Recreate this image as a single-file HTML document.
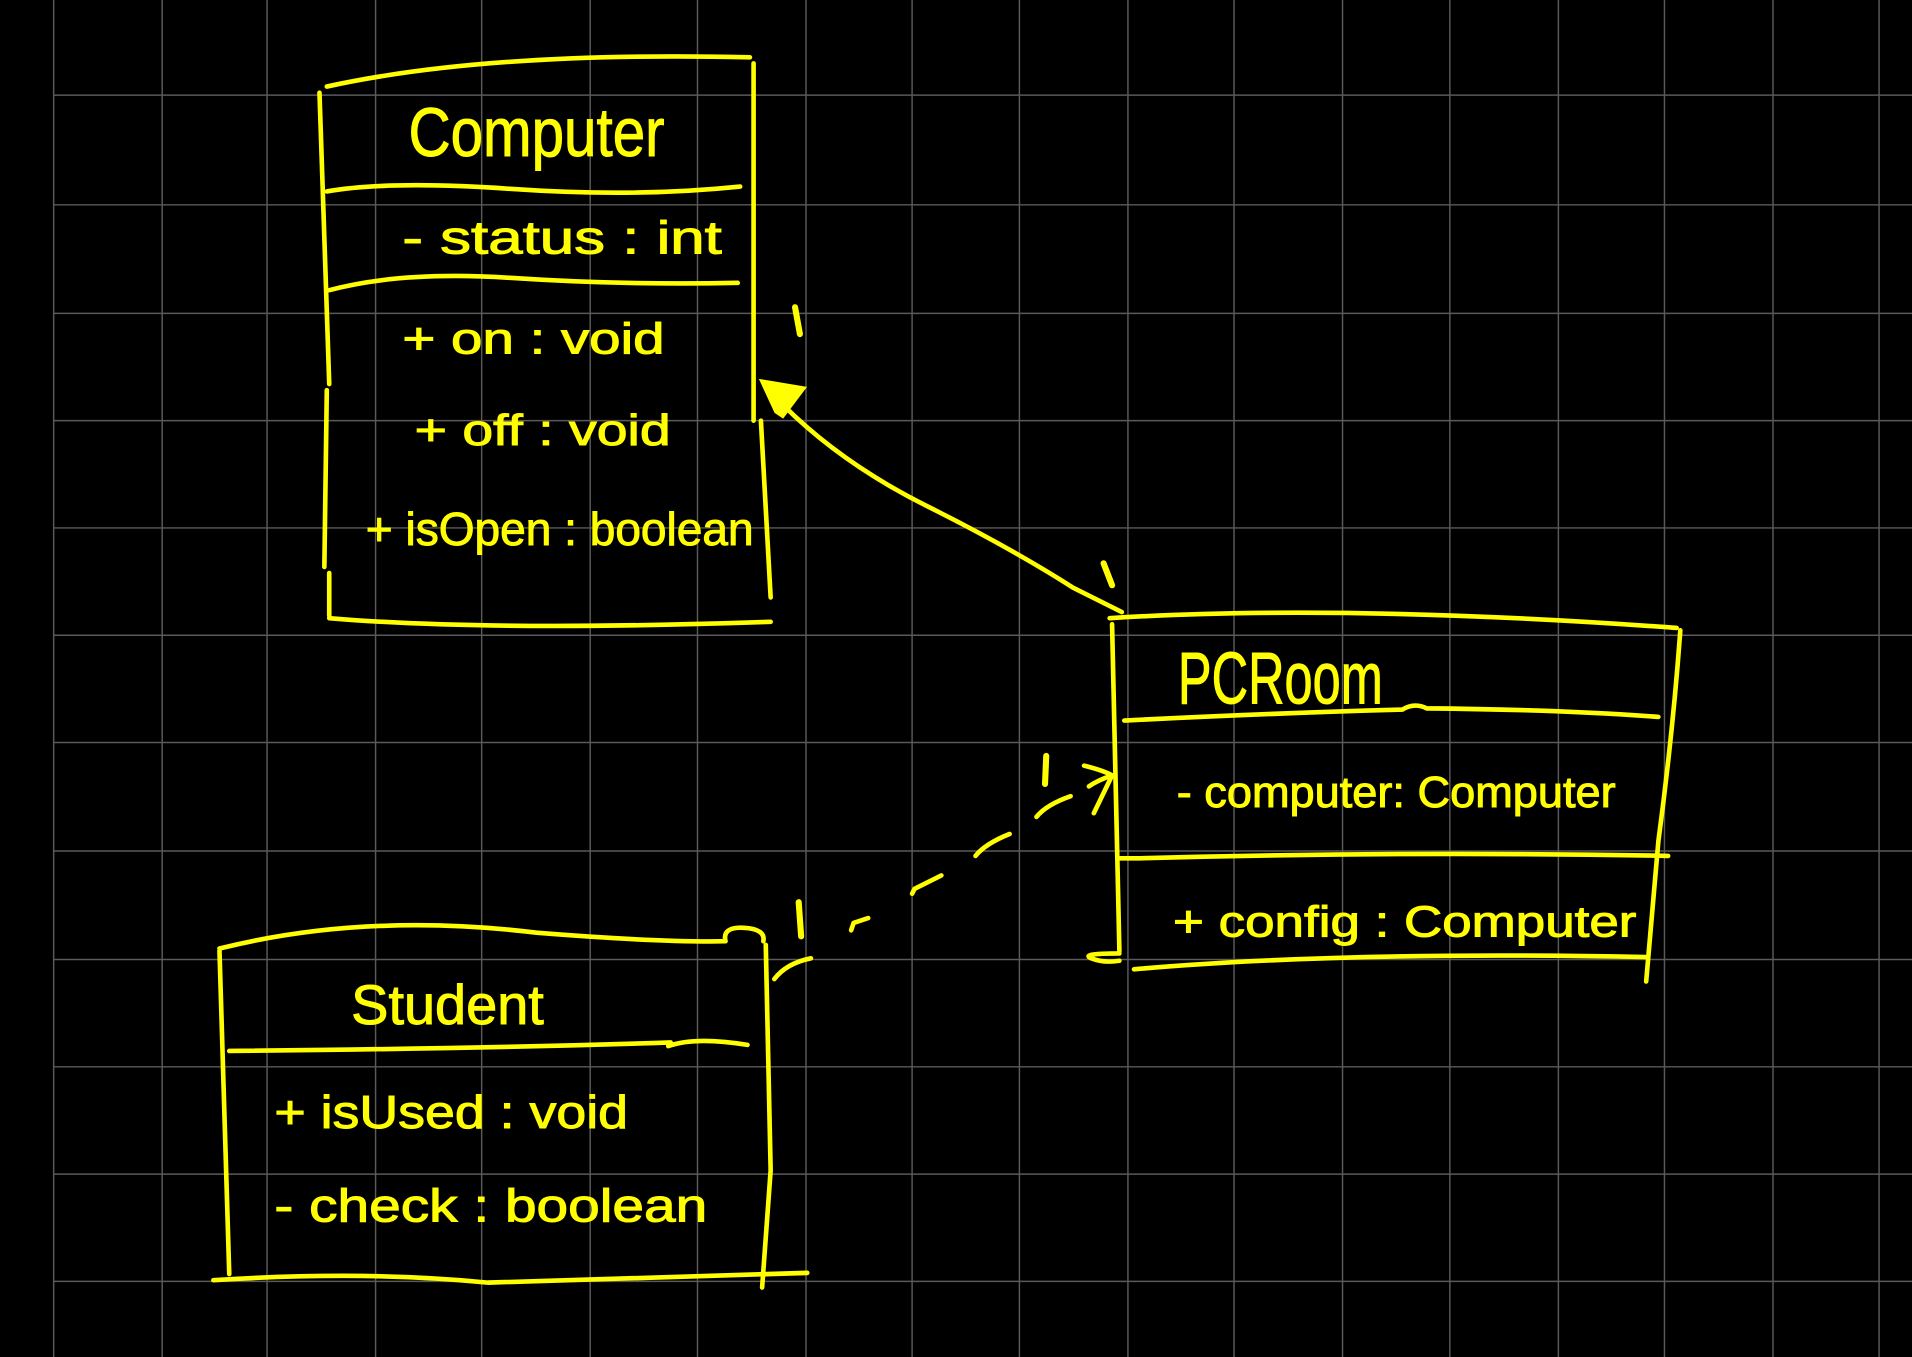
<!DOCTYPE html>
<html><head><meta charset="utf-8"><style>
html,body{margin:0;padding:0;background:#000;}
svg{display:block;}
text{font-family:"Liberation Sans",sans-serif;fill:#ffff00;}
</style></head><body>
<svg width="1912" height="1357" viewBox="0 0 1568 1113" preserveAspectRatio="none" xmlns="http://www.w3.org/2000/svg">
<rect width="1568" height="1113" fill="#000"/>
<g stroke="#5a5a5a" stroke-width="1.2">
<line x1="44" y1="0" x2="44" y2="1113"/><line x1="133" y1="0" x2="133" y2="1113"/><line x1="219" y1="0" x2="219" y2="1113"/><line x1="308" y1="0" x2="308" y2="1113"/><line x1="395" y1="0" x2="395" y2="1113"/><line x1="484" y1="0" x2="484" y2="1113"/><line x1="572" y1="0" x2="572" y2="1113"/><line x1="661" y1="0" x2="661" y2="1113"/><line x1="748" y1="0" x2="748" y2="1113"/><line x1="836" y1="0" x2="836" y2="1113"/><line x1="925" y1="0" x2="925" y2="1113"/><line x1="1012" y1="0" x2="1012" y2="1113"/><line x1="1101" y1="0" x2="1101" y2="1113"/><line x1="1189" y1="0" x2="1189" y2="1113"/><line x1="1278" y1="0" x2="1278" y2="1113"/><line x1="1365" y1="0" x2="1365" y2="1113"/><line x1="1454" y1="0" x2="1454" y2="1113"/><line x1="1541" y1="0" x2="1541" y2="1113"/>
<line x1="44" y1="78" x2="1568" y2="78"/><line x1="44" y1="168" x2="1568" y2="168"/><line x1="44" y1="257" x2="1568" y2="257"/><line x1="44" y1="345" x2="1568" y2="345"/><line x1="44" y1="433" x2="1568" y2="433"/><line x1="44" y1="521" x2="1568" y2="521"/><line x1="44" y1="609" x2="1568" y2="609"/><line x1="44" y1="698" x2="1568" y2="698"/><line x1="44" y1="787" x2="1568" y2="787"/><line x1="44" y1="875" x2="1568" y2="875"/><line x1="44" y1="963" x2="1568" y2="963"/><line x1="44" y1="1051" x2="1568" y2="1051"/>
</g>
<g stroke="#ffff00" stroke-width="3.8" fill="none" stroke-linecap="round" stroke-linejoin="round">
<path d="M268 71 Q400 42 615 47"/>
<path d="M262 76 L270 315"/><path d="M268 320 L266 465"/><path d="M270 470 L270 505"/>
<path d="M270 507 Q400 518 632 510"/>
<path d="M618 52 L618 345"/><path d="M624 345 L632 490"/>
<path d="M268 157 Q320 148 420 155 T607 153"/>
<path d="M270 238 Q330 222 420 228 T605 232"/>
<path d="M652 252 L656 274" stroke-width="5"/>
<path d="M642 332 Q690 380 760 415 Q830 450 880 482 L920 502"/>
<path d="M905 462 L912 480" stroke-width="5"/>
<path d="M910 507 Q1100 495 1375 515"/>
<path d="M912 512 L918 780"/>
<path d="M918 782 Q885 782 895 786 Q905 790 918 788"/>
<path d="M930 795 Q1100 780 1350 785"/>
<path d="M1378 517 Q1372 600 1360 690 L1350 805"/>
<path d="M922 591 Q1040 585 1150 582 Q1160 576 1170 581 Q1280 582 1360 588"/>
<path d="M918 704 L932 704 Q1150 698 1368 702"/>
<path d="M635 803 Q645 790 665 786"/>
<path d="M698 763 L700 757 L712 753"/>
<path d="M748 733 L750 729 L772 718"/>
<path d="M800 702 Q808 692 828 684"/>
<path d="M850 670 Q858 660 878 653"/>
<path d="M858 620 L857 643" stroke-width="5"/>
<path d="M889 628 Q905 632 912 636 Q900 640 893 645"/>
<path d="M912 636 L897 667"/>
<path d="M655 740 L657 768" stroke-width="5"/>
<path d="M180 778 Q300 748 440 765 Q540 773 595 772 Q592 760 610 761 Q628 762 626 772"/>
<path d="M180 780 L188 1045"/>
<path d="M175 1050 Q300 1042 400 1052 Q520 1048 662 1044"/>
<path d="M628 775 L632 960 L625 1056"/>
<path d="M188 862 Q400 860 550 855"/>
<path d="M548 858 Q570 850 613 857"/>
</g>
<g stroke="#ffff00" stroke-width="0.8">
<text x="335" y="128" font-size="56" textLength="210" lengthAdjust="spacingAndGlyphs">Computer</text>
<text x="330" y="208" font-size="38" textLength="262" lengthAdjust="spacingAndGlyphs">- status : int</text>
<text x="330" y="290" font-size="36" textLength="215" lengthAdjust="spacingAndGlyphs">+   on : void</text>
<text x="340" y="365" font-size="36" textLength="210" lengthAdjust="spacingAndGlyphs">+  off : void</text>
<text x="300" y="447" font-size="38" textLength="318" lengthAdjust="spacingAndGlyphs">+ isOpen : boolean</text>
<text x="966" y="577" font-size="60" textLength="168" lengthAdjust="spacingAndGlyphs">PCRoom</text>
<text x="965" y="662" font-size="36" textLength="360" lengthAdjust="spacingAndGlyphs">- computer: Computer</text>
<text x="962" y="768" font-size="36" textLength="380" lengthAdjust="spacingAndGlyphs">+  config  :  Computer</text>
<text x="288" y="840" font-size="46" textLength="158" lengthAdjust="spacingAndGlyphs">Student</text>
<text x="225" y="925" font-size="38" textLength="290" lengthAdjust="spacingAndGlyphs">+  isUsed : void</text>
<text x="225" y="1002" font-size="38" textLength="355" lengthAdjust="spacingAndGlyphs">-  check  :  boolean</text>
</g>
<polygon points="624,312 660,318 642,342 636,338" fill="#ffff00" stroke="#ffff00" stroke-width="2"/>
</svg>
</body></html>
